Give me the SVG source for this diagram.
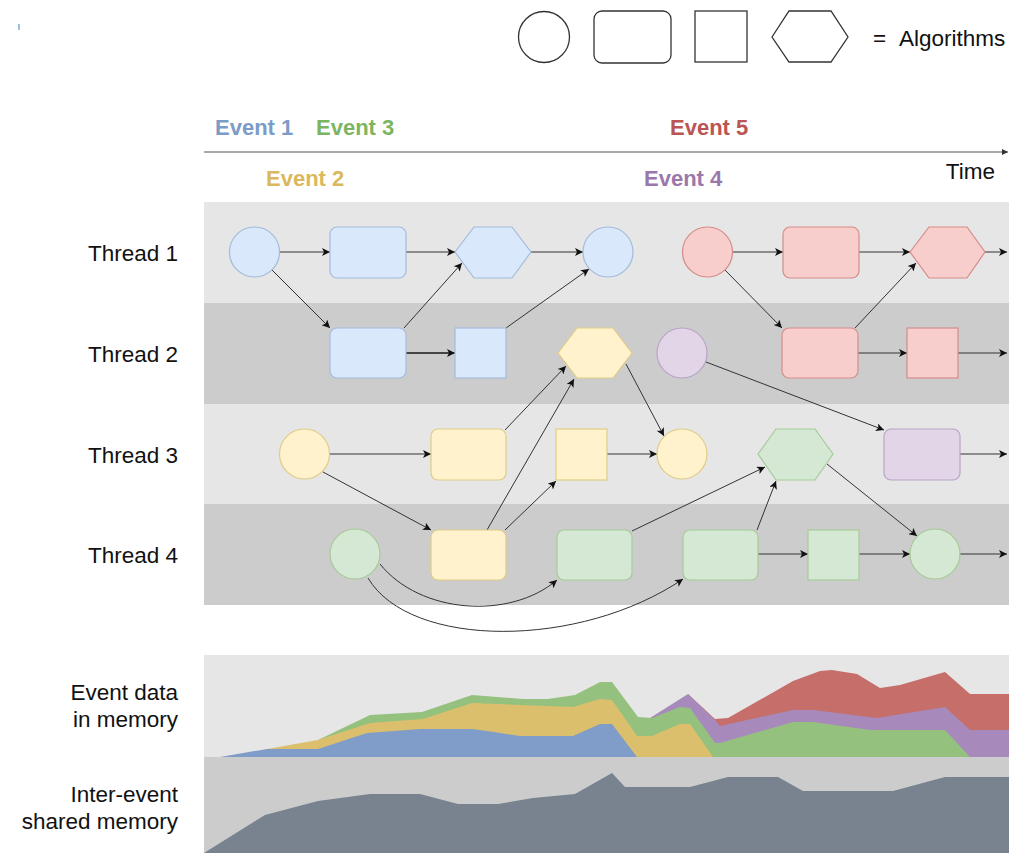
<svg xmlns="http://www.w3.org/2000/svg" width="1020" height="853" viewBox="0 0 1020 853">
  <style>
    .lbl { font-family: "Liberation Sans", Arial, sans-serif; font-size: 22.5px; fill: #111; }
    .ev { font-family: "Liberation Sans", Arial, sans-serif; font-size: 22px; font-weight: bold; }
    .legend { fill: #fff; stroke: #333; stroke-width: 1.3; }
    .blue { fill: #dae8fc; stroke: #a3bbdc; stroke-width: 1.2; }
    .yellow { fill: #fff2cc; stroke: #e0cc88; stroke-width: 1.2; }
    .green { fill: #d5e8d4; stroke: #a6cb98; stroke-width: 1.2; }
    .red { fill: #f8cecc; stroke: #d48c8a; stroke-width: 1.2; }
    .purple { fill: #e1d5e7; stroke: #b9a4c6; stroke-width: 1.2; }
    .edge { fill: none; stroke: #333; stroke-width: 1; marker-end: url(#ah); }
    .thick { stroke-width: 2; stroke: #444; }
  </style>
  <defs>
    <marker id="ah" viewBox="0 0 10 10" refX="10" refY="5" markerWidth="9" markerHeight="8" markerUnits="userSpaceOnUse" orient="auto">
      <path d="M0,0 L10,5 L0,10 L2.5,5 z" fill="#111"/>
    </marker>
    <marker id="ahs" viewBox="0 0 10 10" refX="10" refY="5" markerWidth="6" markerHeight="6" markerUnits="userSpaceOnUse" orient="auto">
      <path d="M0,0 L10,5 L0,10 z" fill="#333"/>
    </marker>
  </defs>

  <rect width="1020" height="853" fill="#ffffff"/>
  <rect x="18" y="24" width="2" height="6" fill="#9cc3e6"/>

  <!-- legend -->
  <g id="legend">
    <circle class="legend" cx="544" cy="37" r="25.5"/>
    <rect class="legend" x="594" y="11" width="77" height="52" rx="8"/>
    <rect class="legend" x="695" y="11" width="52" height="51"/>
    <polygon class="legend" points="772,37 789,11 831,11 848,37 831,62 789,62"/>
    <text class="lbl" x="873" y="46">=</text>
    <text class="lbl" x="899" y="46">Algorithms</text>
  </g>

  <!-- time axis and event labels -->
  <g id="timeline">
    <line x1="204" y1="152" x2="1008" y2="152" stroke="#555" stroke-width="1.2" marker-end="url(#ahs)"/>
    <text class="lbl" x="995" y="179" text-anchor="end" font-size="21">Time</text>
    <text class="ev" x="215" y="135" fill="#7b9cc8">Event 1</text>
    <text class="ev" x="316" y="135" fill="#7cb561">Event 3</text>
    <text class="ev" x="670" y="135" fill="#bb5553">Event 5</text>
    <text class="ev" x="266" y="186" fill="#d9b95c">Event 2</text>
    <text class="ev" x="644" y="186" fill="#9a78ab">Event 4</text>
  </g>

  <!-- thread lanes -->
  <g id="lanes">
    <rect x="204" y="202" width="805" height="101" fill="#e6e6e6"/>
    <rect x="204" y="303" width="805" height="101" fill="#cccccc"/>
    <rect x="204" y="404" width="805" height="100" fill="#e6e6e6"/>
    <rect x="204" y="504" width="805" height="101" fill="#cccccc"/>
    <text class="lbl" x="178" y="261" text-anchor="end">Thread 1</text>
    <text class="lbl" x="178" y="362" text-anchor="end">Thread 2</text>
    <text class="lbl" x="178" y="463" text-anchor="end">Thread 3</text>
    <text class="lbl" x="178" y="563" text-anchor="end">Thread 4</text>
  </g>

  <!-- connectors -->
  <g id="connectors">
    <path class="edge" d="M280,252 L330,252"/>
    <path class="edge" d="M406,252 L455,252"/>
    <path class="edge" d="M531,252 L583,252"/>
    <path class="edge" d="M272,270 L330,328"/>
    <path class="edge" d="M404,328 L462,263"/>
    <path class="edge thick" d="M406,353 L455,353"/>
    <path class="edge" d="M506,328 L589,269"/>
    <path class="edge" d="M733,252 L783,252"/>
    <path class="edge" d="M859,252 L910,252"/>
    <path class="edge" d="M985,252 L1007,252"/>
    <path class="edge" d="M725,270 L782,328"/>
    <path class="edge" d="M855,328 L916,263"/>
    <path class="edge" d="M858,353 L907,353"/>
    <path class="edge" d="M958,353 L1007,353"/>
    <path class="edge" d="M330,454 L431,454"/>
    <path class="edge" d="M323,472 L431,530"/>
    <path class="edge" d="M505,430 L566,366"/>
    <path class="edge" d="M487,530 L574,379"/>
    <path class="edge" d="M505,530 L556,481"/>
    <path class="edge" d="M607,454 L657,454"/>
    <path class="edge" d="M626,364 L664,436"/>
    <path class="edge" d="M706,362 L884,430"/>
    <path class="edge" d="M960,454 L1007,454"/>
    <path class="edge" d="M380,564 C420,614 510,620 557,580"/>
    <path class="edge" d="M368,578 C410,649 580,649 683,579"/>
    <path class="edge" d="M632,531 L765,467"/>
    <path class="edge" d="M757,530 L776,481"/>
    <path class="edge" d="M758,554 L808,554"/>
    <path class="edge" d="M859,554 L910,554"/>
    <path class="edge" d="M960,554 L1007,554"/>
    <path class="edge" d="M827,464 L917,536"/>
  </g>

  <!-- Event 1 -->
  <g id="e1-start"><circle class="blue" cx="254.5" cy="252" r="25"/></g>
  <g id="e1-proc"><rect class="blue" x="330" y="227" width="76" height="51" rx="7"/></g>
  <g id="e1-merge"><polygon class="blue" points="455,252 474,227 512,227 531,252 512,278 474,278"/></g>
  <g id="e1-end"><circle class="blue" cx="608" cy="252" r="25"/></g>
  <g id="e1-split"><rect class="blue" x="330" y="328" width="76" height="50" rx="7"/></g>
  <g id="e1-step"><rect class="blue" x="455" y="328" width="51" height="50"/></g>

  <!-- Event 5 -->
  <g id="e5-start"><circle class="red" cx="707.5" cy="252" r="25"/></g>
  <g id="e5-proc"><rect class="red" x="783" y="227" width="76" height="51" rx="7"/></g>
  <g id="e5-merge"><polygon class="red" points="910,252 929,227 967,227 985,252 967,278 929,278"/></g>
  <g id="e5-split"><rect class="red" x="782" y="328" width="76" height="50" rx="7"/></g>
  <g id="e5-step"><rect class="red" x="907" y="328" width="51" height="50"/></g>

  <!-- Event 2 -->
  <g id="e2-merge"><polygon class="yellow" points="558,353 577,328 613,328 632,353 613,378 577,378"/></g>
  <g id="e2-start"><circle class="yellow" cx="304.5" cy="454" r="25"/></g>
  <g id="e2-proc"><rect class="yellow" x="431" y="429" width="75" height="51" rx="7"/></g>
  <g id="e2-step"><rect class="yellow" x="556" y="429" width="51" height="51"/></g>
  <g id="e2-end"><circle class="yellow" cx="682" cy="454" r="25"/></g>
  <g id="e2-split"><rect class="yellow" x="431" y="530" width="75" height="50" rx="7"/></g>

  <!-- Event 4 -->
  <g id="e4-start"><circle class="purple" cx="682" cy="353" r="25"/></g>
  <g id="e4-proc"><rect class="purple" x="884" y="429" width="76" height="51" rx="7"/></g>

  <!-- Event 3 -->
  <g id="e3-merge"><polygon class="green" points="758,454 776,429 815,429 833,454 815,480 776,480"/></g>
  <g id="e3-start"><circle class="green" cx="355" cy="554" r="25"/></g>
  <g id="e3-proc-a"><rect class="green" x="557" y="530" width="75" height="50" rx="7"/></g>
  <g id="e3-proc-b"><rect class="green" x="683" y="530" width="75" height="50" rx="7"/></g>
  <g id="e3-step"><rect class="green" x="808" y="530" width="51" height="50"/></g>
  <g id="e3-end"><circle class="green" cx="935" cy="554" r="25"/></g>

  <!-- memory usage charts -->
  <g id="memory">
    <rect x="204" y="655" width="805" height="102" fill="#e6e6e6"/>
    <rect x="204" y="757" width="805" height="96" fill="#cccccc"/>
    <!-- stacked per-event areas, drawn outermost first -->
    <polygon fill="#c56e6a" points="688,694 715,719 728,718 793,681 820,671 832,670 857,674 880,688 900,685 945,672 970,694 1009,694 1009,757 688,757"/>
    <polygon fill="#a78abb" points="650,718 688,694 715,720 720,726 793,710 813,710 877,718 945,707 970,730 1009,730 1009,757 650,757"/>
    <polygon fill="#94c27e" points="318,740 370,715 422,712 472,695 523,699 548,699 575,695 600,682 612,682 638,717 652,718 680,707 690,708 715,743 720,743 793,722 813,722 870,730 945,730 970,757 318,757"/>
    <polygon fill="#dcbf6c" points="267,749 318,740 370,723 423,719 472,703 573,707 600,699 612,700 637,736 652,736 680,724 690,724 713,757 267,757"/>
    <polygon fill="#7f9dc8" points="220,757 267,749 318,749 367,733 420,729 472,729 487,731 520,736 573,736 600,724 612,724 637,757"/>
    <!-- shared memory -->
    <polygon fill="#78838f" points="204,853 265,815 318,801 370,794 420,794 458,804 498,804 533,798 575,794 612,773 625,787 690,787 728,777 778,777 803,791 893,791 945,777 1009,777 1009,853"/>
    <text class="lbl" x="178" y="700" text-anchor="end">Event data</text>
    <text class="lbl" x="178" y="727" text-anchor="end">in memory</text>
    <text class="lbl" x="178" y="802" text-anchor="end">Inter-event</text>
    <text class="lbl" x="178" y="829" text-anchor="end">shared memory</text>
  </g>
</svg>
